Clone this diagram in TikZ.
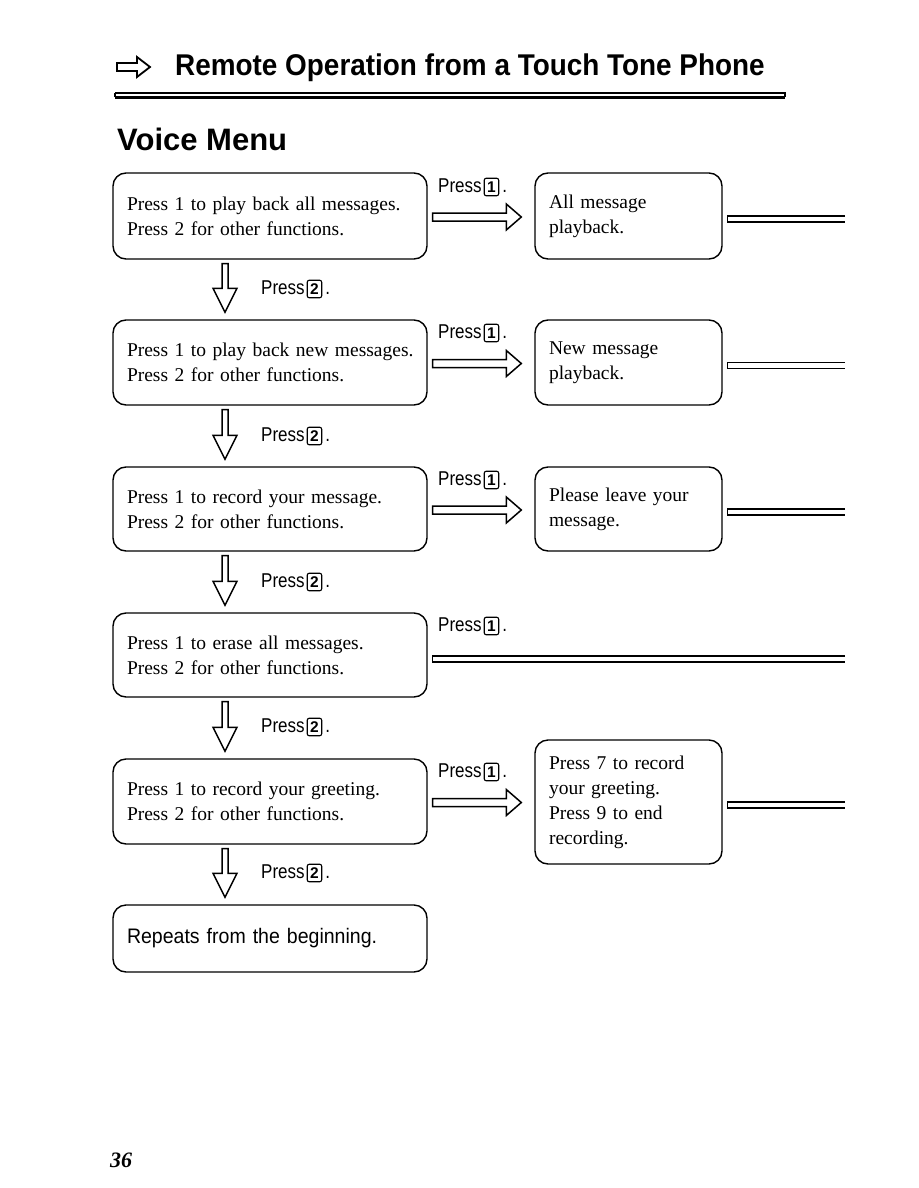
\documentclass[tikz,border=0pt]{standalone}
\usepackage{fontspec}
\setmainfont{Liberation Serif}
\setsansfont{Liberation Sans}
\newfontfamily\pressfont[FakeStretch=0.85]{Liberation Sans}
\newfontfamily\repfont[FakeStretch=0.93]{Liberation Sans}
\newfontfamily\titlefont[FakeStretch=0.93]{Liberation Sans}
\usetikzlibrary{calc}

\newcommand\keycap[1]{\tikz[baseline=(kk.base)]\node[draw,anchor=center,line width=1.1pt,rounded corners=2pt,inner sep=0pt,minimum width=14.5pt,minimum height=17.5pt,align=center,font=\sffamily\bfseries\fontsize{15.5}{15.5}\selectfont](kk){#1};}

\newcommand\hollowR[2]{\draw[arrowline] let \p1=#1, \p2=#2 in
  (\x1,\y1+4pt) -- (\x2-15pt,\y1+4pt) -- (\x2-15pt,\y1+13pt) -- (\x2,\y1)
  -- (\x2-15pt,\y1-13pt) -- (\x2-15pt,\y1-4pt) -- (\x1,\y1-4pt) -- cycle;}
\newcommand\hollowD[2]{\draw[arrowline] let \p1=#1, \p2=#2 in
  (\x1-3pt,\y1) -- (\x1-3pt,\y2+24pt) -- (\x1-12pt,\y2+24pt) -- (\x1,\y2)
  -- (\x1+12pt,\y2+24pt) -- (\x1+3pt,\y2+24pt) -- (\x1+3pt,\y1) -- cycle;}
\newcommand\dbl[2]{\draw[arrowline] let \p1=#1, \p2=#2 in
  (\x2,\y1+3pt) -- (\x1,\y1+3pt) -- (\x1,\y1-3pt) -- (\x2,\y1-3pt);}

\tikzset{
  box/.style={draw, line width=1.4pt, rounded corners=13pt, inner xsep=14pt, inner ysep=0pt,
    align=left, font=\fontsize{19.5}{25}\selectfont,
    execute at begin node={\hyphenpenalty=10000\exhyphenpenalty=10000\hbadness=10000\hfuzz=50pt}},
  lbox/.style={box, minimum width=314pt, text width=286pt},
  rbox/.style={box, minimum width=187pt, text width=159pt},
  arrowline/.style={line width=1.5pt, line join=miter},
  pressl/.style={anchor=west, inner sep=0pt, font=\pressfont\fontsize{20}{20}\selectfont},
}

\begin{document}
\begin{tikzpicture}[x=1pt,y=-1pt]
\fill[white] (0,0) rectangle (918,1188);
\useasboundingbox (0,0) rectangle (918,1188);

% header
\draw[line width=1.8pt, line join=miter] (117,63) -- (137,63) -- (137,57) -- (150,67) -- (137,77) -- (137,71) -- (117,71) -- cycle;
\node[anchor=base west, inner sep=0pt, font=\titlefont\bfseries\fontsize{30}{30}\selectfont] (title) at (175,76) {Remote Operation from a Touch Tone Phone};
\draw[line width=1.2pt] (115,93) -- (785,93) -- (785,97.5);
\draw[line width=2.6pt] (115,97.5) -- (785,97.5);
\draw[line width=1.2pt] (115,93) -- (115,97.5);
\node[anchor=base west, inner sep=0pt, font=\sffamily\bfseries\fontsize{31}{31}\selectfont] (vm) at (117,150) {Voice Menu};

% left boxes
\node[lbox, minimum height=86pt] (b1) at (270,216) {\mbox{Press 1 to play back all messages.}\\Press 2 for other functions.};
\node[lbox, minimum height=85pt] (b2) at (270,362.5) {\mbox{Press 1 to play back new messages.}\\Press 2 for other functions.};
\node[lbox, minimum height=84pt] (b3) at (270,509) {Press 1 to record your message.\\Press 2 for other functions.};
\node[lbox, minimum height=84pt] (b4) at (270,655) {Press 1 to erase all messages.\\Press 2 for other functions.};
\node[lbox, minimum height=85pt] (b5) at (270,801.5) {Press 1 to record your greeting.\\Press 2 for other functions.};
\node[lbox, minimum height=67pt, font=\repfont\fontsize{21}{25}\selectfont] (b6) at (270,938.5) {Repeats from the beginning.};

% right boxes
\node[rbox, minimum height=86pt] (r1) at (628.5,216) {All message\\playback.};
\node[rbox, minimum height=85pt] (r2) at (628.5,362.5) {New message\\playback.};
\node[rbox, minimum height=84pt] (r3) at (628.5,509) {Please leave your\\message.};
\node[rbox, minimum height=124pt] (r5) at (628.5,802) {Press 7 to record\\your greeting.\\Press 9 to end\\recording.};

% Press 1 labels
\node[pressl] (p1a) at (438,187) {Press\kern2pt\keycap{1}\kern3pt.};
\node[pressl] (p1b) at (438,333) {Press\kern2pt\keycap{1}\kern3pt.};
\node[pressl] (p1c) at (438,480) {Press\kern2pt\keycap{1}\kern3pt.};
\node[pressl] (p1d) at (438,626) {Press\kern2pt\keycap{1}\kern3pt.};
\node[pressl] (p1e) at (438,772) {Press\kern2pt\keycap{1}\kern3pt.};

% Press 2 labels
\node[pressl] (p2a) at (261,289) {Press\kern2pt\keycap{2}\kern3pt.};
\node[pressl] (p2b) at (261,436) {Press\kern2pt\keycap{2}\kern3pt.};
\node[pressl] (p2c) at (261,582) {Press\kern2pt\keycap{2}\kern3pt.};
\node[pressl] (p2d) at (261,727) {Press\kern2pt\keycap{2}\kern3pt.};
\node[pressl] (p2e) at (261,873) {Press\kern2pt\keycap{2}\kern3pt.};

% right arrows
\hollowR{($(b1.east)+(5,1)$)}{($(r1.west)+(-13,1)$)}
\hollowR{($(b2.east)+(5,1)$)}{($(r2.west)+(-13,1)$)}
\hollowR{($(b3.east)+(5,1)$)}{($(r3.west)+(-13,1)$)}
\hollowR{($(b5.east)+(5,1)$)}{($(r5.west)+(-13,1)$)}

% down arrows
\hollowD{($(b1.south)+(-45,4)$)}{($(b2.north)+(-45,-7)$)}
\hollowD{($(b2.south)+(-45,4)$)}{($(b3.north)+(-45,-7)$)}
\hollowD{($(b3.south)+(-45,4)$)}{($(b4.north)+(-45,-7)$)}
\hollowD{($(b4.south)+(-45,4)$)}{($(b5.north)+(-45,-7)$)}
\hollowD{($(b5.south)+(-45,4)$)}{($(b6.north)+(-45,-7)$)}

% continuation lines to the right
\coordinate (e1) at (845,219);
\coordinate (e2) at (845,365.5);
\coordinate (e3) at (845,512);
\coordinate (e4) at (845,659);
\coordinate (e5) at (845,805);
\dbl{($(r1.east)+(5,3)$)}{(e1)}
\dbl{($(r2.east)+(5,3)$)}{(e2)}
\dbl{($(r3.east)+(5,3)$)}{(e3)}
\dbl{($(b4.east)+(5,4)$)}{(e4)}
\dbl{($(r5.east)+(5,3)$)}{(e5)}

% page number
\node[anchor=base west, inner sep=0pt, font=\bfseries\itshape\fontsize{22}{22}\selectfont] (pg) at (110,1167) {36};
\end{tikzpicture}
\end{document}
